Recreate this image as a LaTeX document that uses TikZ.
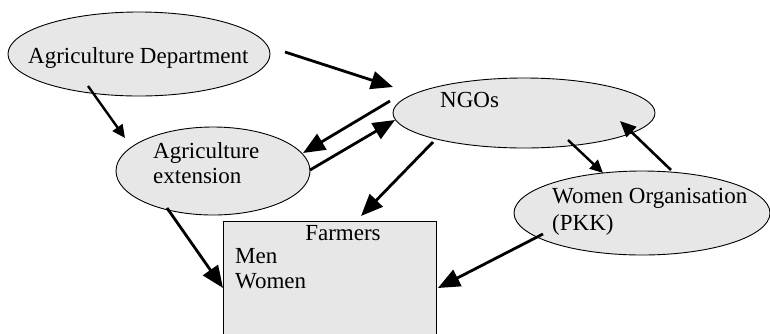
\documentclass[tikz,border=0pt]{standalone}
\usepackage{fontspec}
\setmainfont{Liberation Serif}
\usetikzlibrary{shapes.geometric,arrows.meta}
\definecolor{boxfill}{RGB}{231,231,231}
\begin{document}
\begin{tikzpicture}[x=1pt,y=-1pt,
  bubble/.style={ellipse,draw=black,line width=0.9pt,fill=boxfill,inner sep=0pt},
  lbl/.style={anchor=base west,inner sep=0pt,font=\fontsize{23}{25}\selectfont},
  bigarrow/.style={line width=2.8pt,-{Triangle[length=22pt,width=18pt]}},
  smallarrow/.style={line width=2.4pt,-{Triangle[length=13pt,width=12pt]}},
  midarrow/.style={line width=2.6pt,-{Triangle[length=16pt,width=14pt]}}]
\useasboundingbox (0,0) rectangle (770,333);

% organisations
\node[bubble,minimum width=262pt,minimum height=84pt] (dept) at (139,54) {};
\node[bubble,minimum width=194pt,minimum height=88pt] (ext) at (213,171) {};
\node[bubble,minimum width=262pt,minimum height=70pt] (ngo) at (524,113) {};
\node[bubble,minimum width=256pt,minimum height=84pt] (wo) at (642,213) {};
\node[draw=black,line width=0.9pt,fill=boxfill,anchor=north west,inner sep=0pt,
      minimum width=213pt,minimum height=125pt] (farm) at (223,221) {};

% labels
\node[lbl] (deptT) at (28,63) {Agriculture Department};
\node[lbl] (extT1) at (153,158) {Agriculture};
\node[lbl] (extT2) at (153,183) {extension};
\node[lbl] (ngoT) at (440,107) {NGOs};
\node[lbl] (woT1) at (552,203) {Women Organisation};
\node[lbl] (woT2) at (552,230) {(PKK)};
\node[lbl,anchor=base] (farmT) at (343,240) {Farmers};
\node[lbl] (menT) at (235,263) {Men};
\node[lbl] (womenT) at (235,288) {Women};

% flows
\draw[bigarrow] ([shift={(146,-2)}]dept.center) -- ([shift={(-131,-26)}]ngo.center);
\draw[smallarrow] ([shift={(-51,32)}]dept.center) -- ([shift={(-88,-33)}]ext.center);
\draw[bigarrow] ([shift={(-134,-12)}]ngo.center) -- ([shift={(90,-18)}]ext.center);
\draw[bigarrow] ([shift={(97,-1)}]ext.center) -- ([shift={(-129,7)}]ngo.center);
\draw[bigarrow] ([shift={(-91,29)}]ngo.center) -- ([shift={(138,-5)}]farm.north west);
\draw[bigarrow] ([shift={(-46,37)}]ext.center) -- ([shift={(0,67)}]farm.north west);
\draw[smallarrow] ([shift={(44,27)}]ngo.center) -- ([shift={(-39,-40)}]wo.center);
\draw[midarrow] ([shift={(29,-43)}]wo.center) -- ([shift={(96,8)}]ngo.center);
\draw[bigarrow] ([shift={(-99,21)}]wo.center) -- ([shift={(1,67)}]farm.north east);
\end{tikzpicture}
\end{document}
